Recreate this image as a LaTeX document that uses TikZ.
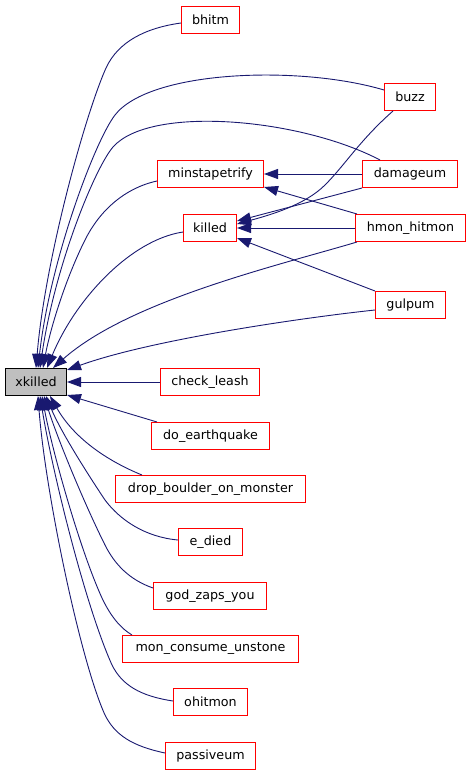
\documentclass[tikz,border=0pt]{standalone}
\usepackage{fontspec}
\setmainfont{DejaVu Sans}
\usetikzlibrary{arrows.meta,calc}
\definecolor{edgec}{HTML}{191970}
\definecolor{boxred}{HTML}{FF0000}
\definecolor{grayfill}{HTML}{BFBFBF}
\begin{document}
\begin{tikzpicture}[x=1pt,y=-1pt,
  fn/.style={draw=boxred, line width=1pt, minimum height=27pt, inner sep=0pt,
             font=\fontsize{12.7}{15}\selectfont, text=black},
  root/.style={fn, draw=black, fill=grayfill},
  edge/.style={edgec, line width=0.9pt, -{Triangle[length=14pt,width=10pt]}}]
\useasboundingbox (0,0) rectangle (472,776);
% nodes
\node[fn, minimum width=58pt]  (bhitm)   at (210.5,20)  {bhitm};
\node[fn, minimum width=51pt]  (buzz)    at (410,97)    {buzz};
\node[fn, minimum width=95pt]  (damageum) at (410,174)  {damageum};
\node[fn, minimum width=106pt] (minst)   at (210.5,174) {minstapetrify};
\node[fn, minimum width=53pt]  (killed)  at (210,228)   {killed};
\node[fn, minimum width=110pt] (hmon)    at (410.5,228) {hmon\_hitmon};
\node[fn, minimum width=70pt]  (gulpum)  at (410.5,305) {gulpum};
\node[root, minimum width=61pt] (xkilled) at (36,382)   {xkilled};
\node[fn, minimum width=99pt]  (checkleash) at (210,382) {check\_leash};
\node[fn, minimum width=118pt] (doeq)    at (210.5,436) {do\_earthquake};
\node[fn, minimum width=190pt] (drop)    at (210.5,489) {drop\_boulder\_on\_monster};
\node[fn, minimum width=64pt]  (edied)   at (210.5,542) {e\_died};
\node[fn, minimum width=113pt] (god)     at (210,596)   {god\_zaps\_you};
\node[fn, minimum width=176pt] (mon)     at (210.5,649) {mon\_consume\_unstone};
\node[fn, minimum width=74pt]  (ohit)    at (210.5,702) {ohitmon};
\node[fn, minimum width=90pt]  (pass)    at (210.5,756) {passiveum};
% edges into xkilled (top)
\draw[edge] ($(bhitm.west)+(0,3)$) .. controls (145,28) and (118,42) .. (106,68)
  .. controls (85,115) and (45,260) .. (xkilled.north);
\draw[edge] ($(buzz.west)+(0,-7)$) .. controls (300,65) and (150,70) .. (115,115)
  .. controls (95,141) and (50,260) .. ($(xkilled.north)+(2,0)$);
\draw[edge] ($(damageum.north west)+(18,0)$) .. controls (300,118) and (150,105) .. (113,147)
  .. controls (95,168) and (55,265) .. ($(xkilled.north)+(4,0)$);
\draw[edge] ($(minst.west)+(0,7)$) .. controls (125,188) and (100,210) .. (85,240)
  .. controls (65,280) and (50,330) .. ($(xkilled.north)+(7,0)$);
\draw[edge] ($(killed.west)+(0,4)$) .. controls (130,240) and (75,300) .. ($(xkilled.north)+(11,0)$);
\draw[edge] ($(hmon.south west)+(2,0)$) .. controls (280,265) and (130,300) .. ($(xkilled.north)+(17,0)$);
\draw[edge] ($(gulpum.west)+(0,5)$) .. controls (300,318) and (150,340) .. ($(xkilled.north east)+(0,2)$);
% right side
\draw[edge] (checkleash) -- (xkilled);
\draw[edge] ($(doeq.north west)+(6,0)$) -- ($(xkilled.south east)+(0,-1)$);
% bottom
\draw[edge] ($(drop.north west)+(27,0)$) .. controls (110,462) and (75,440) .. ($(xkilled.south)+(14,0)$);
\draw[edge] ($(edied.west)+(0,-2)$) .. controls (145,537) and (120,520) .. (105,500)
  .. controls (85,470) and (60,430) .. ($(xkilled.south)+(10,0)$);
\draw[edge] ($(god.west)+(0,-8)$) .. controls (130,580) and (115,565) .. (105,545)
  .. controls (85,505) and (58,440) .. ($(xkilled.south)+(8,0)$);
\draw[edge] ($(mon.north west)+(10,0)$) .. controls (120,628) and (110,615) .. (102,598)
  .. controls (80,550) and (52,450) .. ($(xkilled.south)+(6,0)$);
\draw[edge] ($(ohit.west)+(0,-1)$) .. controls (140,696) and (122,685) .. (112,665)
  .. controls (85,605) and (52,470) .. ($(xkilled.south)+(4,0)$);
\draw[edge] ($(pass.west)+(0,-3)$) .. controls (132,746) and (115,735) .. (105,715)
  .. controls (80,660) and (45,490) .. ($(xkilled.south)+(2,0)$);
% into minstapetrify
\draw[edge] (damageum) -- (minst);
\draw[edge] ($(hmon.north west)+(2,0)$) -- ($(minst.south east)+(0,-1)$);
% into killed
\draw[edge] (damageum.south west) -- ($(killed.east)+(0,-7)$);
\draw[edge] ($(buzz.south west)+(9,0)$) .. controls (360,140) and (345,165) .. (325,185)
  .. controls (305,205) and (270,215) .. ($(killed.east)+(0,-4)$);
\draw[edge] (hmon) -- (killed);
\draw[edge] (gulpum.north west) -- ($(killed.east)+(0,10)$);
\end{tikzpicture}
\end{document}
